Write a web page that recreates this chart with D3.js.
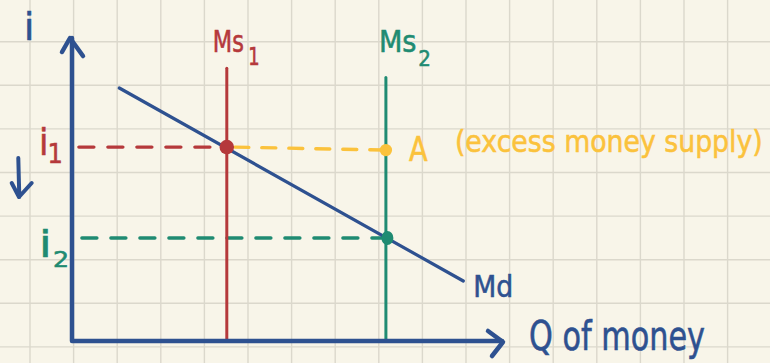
<!DOCTYPE html>
<html>
<head>
<meta charset="utf-8">
<script src="https://cdn.jsdelivr.net/npm/d3@7/dist/d3.min.js"></script>
<style>
  html, body { margin: 0; padding: 0; background: #f8f5e9; }
  svg { display: block; }
  text { font-family: "DejaVu Sans", "Noto Sans", sans-serif; }
</style>
</head>
<body>
<svg id="chart" width="770" height="363"></svg>
<script>
// Money market: interest rate (i) against quantity of money (Q)
const supplyNames = ["Ms", "Ms"];
const supplySubs = ["1", "2"];
const supplyQ = [36, 73];        // quantity fixed by each money supply
const supplyTop = [90, 87];      // where each supply line ends at the top
const rateNames = ["i", "i"];
const rateSubs = ["1", "2"];
const rateValues = [64, 34];     // i1 and i2
const rateStartQ = [1.6, 2.3];   // dashed guides begin just right of the axis
const demandQ = [11, 91];        // money demand curve end points
const demandI = [83.5, 19.8];
const pointA = [73, 63];         // excess supply point at i1
const axisMax = [100, 100];

const colors = {
  paper: "#f8f5e9",
  grid: "#dbd8cc",
  blue: "#2e5190",
  red: "#b5393b",
  green: "#1f8b72",
  yellow: "#fbc23c"
};
const supplyColors = [colors.red, colors.green];

const svg = d3.select("#chart");
const W = 770, H = 363;

svg.append("rect").attr("width", W).attr("height", H).attr("fill", colors.paper);

// graph-paper background
const step = 43.6;
const grid = svg.append("g").attr("stroke", colors.grid).attr("stroke-width", 1.4);
grid.selectAll("line.v").data(d3.range(30, W, step)).join("line")
  .attr("x1", d => d).attr("x2", d => d).attr("y1", 0).attr("y2", H);
grid.selectAll("line.h").data(d3.range(41.7, H, step)).join("line")
  .attr("y1", d => d).attr("y2", d => d).attr("x1", 0).attr("x2", W);

const x = d3.scaleLinear().domain([0, 100]).range([72, 502]);
const y = d3.scaleLinear().domain([0, 100]).range([341, 38]);

const round = sel => sel.attr("stroke-linecap", "round").attr("stroke-linejoin", "round").attr("fill", "none");

// dashed guides at i1 and i2
rateValues.forEach((r, k) => {
  svg.append("line")
    .attr("x1", x(rateStartQ[k])).attr("x2", x(supplyQ[k]))
    .attr("y1", y(r)).attr("y2", y(r))
    .attr("stroke", supplyColors[k]).attr("stroke-width", 3.4)
    .attr("stroke-dasharray", "15 14").call(round);
});
// yellow guide from the first equilibrium across to point A
svg.append("line")
  .attr("x1", x(supplyQ[0]) + 8).attr("x2", x(pointA[0]))
  .attr("y1", y(rateValues[0])).attr("y2", y(pointA[1]))
  .attr("stroke", colors.yellow).attr("stroke-width", 3.4)
  .attr("stroke-dasharray", "14 13").call(round);

// money supply lines
supplyQ.forEach((q, k) => {
  svg.append("line")
    .attr("x1", x(q)).attr("x2", x(q))
    .attr("y1", y(supplyTop[k])).attr("y2", y(0))
    .attr("stroke", supplyColors[k]).attr("stroke-width", 3).call(round);
});

// money demand curve
const line = d3.line().x(d => x(d[0])).y(d => y(d[1]));
svg.append("path")
  .attr("d", line(demandQ.map((q, k) => [q, demandI[k]])))
  .attr("stroke", colors.blue).attr("stroke-width", 3.2).call(round);

// axes with arrowheads
svg.append("path")
  .attr("d", `M${x(0)},${y(axisMax[1])} L${x(0)},${y(0)} L${x(axisMax[0])},${y(0)}`)
  .attr("stroke", colors.blue).attr("stroke-width", 4.5).call(round);
svg.append("path")
  .attr("d", `M${x(0) - 10},${y(axisMax[1]) + 14} L${x(0) - 2},${y(axisMax[1])} L${x(0) + 11},${y(axisMax[1]) + 18}`)
  .attr("stroke", colors.blue).attr("stroke-width", 4.5).call(round);
svg.append("path")
  .attr("d", `M${x(axisMax[0]) - 14},${y(0) - 10} L${x(axisMax[0]) + 1},${y(0) + 1} L${x(axisMax[0]) - 10},${y(0) + 15}`)
  .attr("stroke", colors.blue).attr("stroke-width", 4.5).call(round);

// equilibrium points and point A
svg.append("circle").attr("cx", x(supplyQ[0])).attr("cy", y(rateValues[0])).attr("r", 7.3).attr("fill", colors.red);
svg.append("ellipse").attr("cx", x(supplyQ[1]) + 1.5).attr("cy", y(rateValues[1])).attr("rx", 6).attr("ry", 7).attr("fill", colors.green);
svg.append("circle").attr("cx", x(pointA[0])).attr("cy", y(pointA[1])).attr("r", 6.2).attr("fill", colors.yellow);

// labels: one text element per label, with optional subscript tspan,
// squeezed horizontally to the given width
function label(parts, px, py, color, width) {
  const t = svg.append("text")
    .attr("fill", color).attr("stroke", color).attr("stroke-width", 0.6)
    .attr("transform", `translate(${px},${py})`);
  parts.forEach(p => {
    const s = t.append("tspan").attr("font-size", p.size).text(p.t);
    if (p.dx) s.attr("dx", p.dx);
    if (p.dy) s.attr("dy", p.dy);
  });
  if (width) {
    const bw = t.node().getBBox().width;
    t.attr("transform", `translate(${px},${py}) scale(${width / bw},1)`);
  }
  return t;
}

label([{ t: "i", size: 37 }], 24, 40, colors.blue);

supplyQ.forEach((q, k) => {
  const lx = k === 0 ? x(q) - 14 : x(q) - 7;
  const ly = k === 0 ? y(supplyTop[k]) - 16 : y(supplyTop[k]) - 25;
  label([
    { t: supplyNames[k], size: 30 },
    { t: supplySubs[k], size: k === 0 ? 24 : 22, dx: k === 0 ? 6 : 2, dy: k === 0 ? 13 : 14 }
  ], lx, ly, supplyColors[k], k === 0 ? 47 : 52);
});

rateValues.forEach((r, k) => {
  const ly = y(r) + (k === 0 ? 8 : 19);
  label([
    { t: rateNames[k], size: 38 },
    { t: rateSubs[k], size: k === 0 ? 27 : 21, dx: k === 0 ? -1 : 1, dy: k === 0 ? 8 : 10 }
  ], 39, ly, supplyColors[k], k === 0 ? 24 : 30);
});

// arrow showing the fall in the interest rate
svg.append("path")
  .attr("d", "M18.3,158 L19.3,197 M11.7,183 L19,197 L31.7,183")
  .attr("stroke", colors.blue).attr("stroke-width", 4).call(round);

label([{ t: "A", size: 33 }], x(pointA[0]) + 23, y(pointA[1]) + 11, colors.yellow, 19);
label([{ t: "(excess money supply)", size: 31 }], x(pointA[0]) + 69, y(pointA[1]) + 2, colors.yellow, 308);

label([{ t: "Md", size: 30 }], x(demandQ[1]) + 10, y(demandI[1]) + 16, colors.blue, 40);
label([{ t: "Q of money", size: 40 }], x(axisMax[0]) + 27, y(0) + 9, colors.blue, 176);
</script>
</body>
</html>
